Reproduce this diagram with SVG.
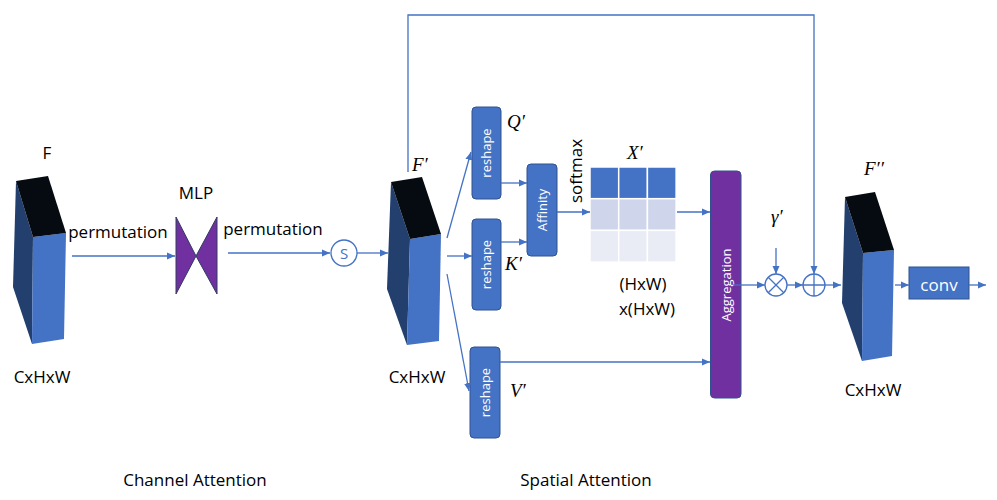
<svg xmlns="http://www.w3.org/2000/svg" width="997" height="500" viewBox="0 0 997 500">
<style>
text{font-family:"Open Sans","Liberation Sans",sans-serif;fill:#000}
.lbl{font-size:17px}
.cap{font-size:17px}
.math{font-family:"Liberation Serif","DejaVu Serif",serif;font-style:italic;font-size:19px}
.wt{fill:#fff;font-size:13px}
.top{fill:#060b12}
.front{fill:#4472c4}
.side{fill:#223f6e}
.box{fill:#4472c4;stroke:#2f528f;stroke-width:1}
.conn line,.conn path{stroke:#4472c4;stroke-width:1.3;fill:none}
.op{fill:#fff;stroke:#4472c4;stroke-width:1.3}
</style>
<defs>
<marker id="ah" markerUnits="userSpaceOnUse" markerWidth="9" markerHeight="8" refX="8" refY="4" orient="auto">
<path d="M0,0.5 L8,4 L0,7.5 z" fill="#4472c4"/>
</marker>
</defs>

<g id="blockF">
<polygon class="side" points="16,181 33,237 32,344 13,287"/>
<polygon class="front" points="33,237 66,233 64,339 32,344"/>
<polygon class="top" points="16,181 48,176 66,233 33,237"/>
<text class="lbl" x="47" y="159" text-anchor="middle">F</text>
<text class="lbl" x="42" y="383" text-anchor="middle">CxHxW</text>
</g>

<g id="mlp">
<polygon points="176,217 196,256 217,217 217,294 196,256 176,294" fill="#7030a0" stroke="#2f3c5f" stroke-width="1"/>
<text class="lbl" x="196" y="199" text-anchor="middle">MLP</text>
</g>

<g id="labels-perm">
<text class="lbl" x="118" y="238" text-anchor="middle">permutation</text>
<text class="lbl" x="273" y="235" text-anchor="middle">permutation</text>
</g>

<g id="sigmoid">
<circle class="op" cx="344" cy="253" r="13"/>
<text x="344" y="258.5" text-anchor="middle" style="font-size:15px;fill:#4472c4">S</text>
</g>

<g id="blockFp">
<polygon class="side" points="391,182 410,239 407,345 387,289"/>
<polygon class="front" points="410,239 441,234 439,341 407,345"/>
<polygon class="top" points="391,182 422,177 441,234 410,239"/>
<text class="math" x="412" y="171">F′</text>
<text class="lbl" x="417" y="383" text-anchor="middle">CxHxW</text>
</g>

<g id="reshapeQ">
<rect class="box" x="472" y="107" width="29" height="92" rx="4"/>
<text class="wt" transform="translate(486.5,153) rotate(-90)" text-anchor="middle" dy="0.35em">reshape</text>
<text class="math" x="507" y="128">Q′</text>
</g>

<g id="reshapeK">
<rect class="box" x="472" y="219" width="29" height="91" rx="4"/>
<text class="wt" transform="translate(486.5,264.5) rotate(-90)" text-anchor="middle" dy="0.35em">reshape</text>
<text class="math" x="505" y="270">K′</text>
</g>

<g id="reshapeV">
<rect class="box" x="470" y="347" width="30" height="91" rx="4"/>
<text class="wt" transform="translate(485,392.5) rotate(-90)" text-anchor="middle" dy="0.35em">reshape</text>
<text class="math" x="510" y="397">V′</text>
</g>

<g id="affinity">
<rect class="box" x="527" y="164" width="30" height="92" rx="4"/>
<text class="wt" transform="translate(542,210) rotate(-90)" text-anchor="middle" dy="0.35em">Affinity</text>
</g>

<g id="softmax">
<text class="lbl" transform="translate(582,171) rotate(-90)" text-anchor="middle">softmax</text>
</g>

<g id="matrix">
<g stroke="#fff" stroke-width="1.5">
<rect x="590" y="167" width="28.7" height="31.7" fill="#4472c4"/>
<rect x="618.7" y="167" width="28.7" height="31.7" fill="#4472c4"/>
<rect x="647.4" y="167" width="28.7" height="31.7" fill="#4472c4"/>
<rect x="590" y="198.7" width="28.7" height="31.7" fill="#cfd5ea"/>
<rect x="618.7" y="198.7" width="28.7" height="31.7" fill="#cfd5ea"/>
<rect x="647.4" y="198.7" width="28.7" height="31.7" fill="#cfd5ea"/>
<rect x="590" y="230.4" width="28.7" height="31.7" fill="#e9ebf5"/>
<rect x="618.7" y="230.4" width="28.7" height="31.7" fill="#e9ebf5"/>
<rect x="647.4" y="230.4" width="28.7" height="31.7" fill="#e9ebf5"/>
</g>
<text class="math" x="627" y="159">X′</text>
<text class="lbl" x="643" y="290" text-anchor="middle">(HxW)</text>
<text class="lbl" x="647" y="315" text-anchor="middle">x(HxW)</text>
</g>

<g id="aggregation">
<rect x="710.5" y="171" width="30.5" height="227" rx="4" fill="#7030a0" stroke="#2f528f" stroke-width="1"/>
<text class="wt" transform="translate(726,285) rotate(-90)" text-anchor="middle" dy="0.35em">Aggregation</text>
</g>

<g id="multiply">
<circle class="op" cx="776" cy="285" r="11"/>
<path d="M768.2,277.2 L783.8,292.8 M783.8,277.2 L768.2,292.8" stroke="#4472c4" stroke-width="1.3"/>
<text class="math" x="771" y="223">γ′</text>
</g>

<g id="add">
<circle class="op" cx="814" cy="285" r="11"/>
<path d="M803,285 H825 M814,274 V296" stroke="#4472c4" stroke-width="1.3"/>
</g>

<g id="blockFpp">
<polygon class="side" points="845,197 863,253 862,361 842,303"/>
<polygon class="front" points="863,253 894,250 892,356 862,361"/>
<polygon class="top" points="845,197 875,192 894,250 863,253"/>
<text class="math" x="864" y="175">F′′</text>
<text class="lbl" x="873" y="396" text-anchor="middle">CxHxW</text>
</g>

<g id="conv">
<rect x="909" y="267" width="60" height="32" fill="#4472c4" stroke="#2f528f" stroke-width="1"/>
<text x="939" y="291" text-anchor="middle" style="font-size:17px;fill:#fff">conv</text>
</g>

<g id="captions">
<text class="cap" x="195" y="486" text-anchor="middle">Channel Attention</text>
<text class="cap" x="586" y="486" text-anchor="middle">Spatial Attention</text>
</g>

<g id="connectors" class="conn">
<line x1="72" y1="256" x2="175" y2="256" marker-end="url(#ah)"/>
<line x1="228" y1="253" x2="330" y2="253" marker-end="url(#ah)"/>
<line x1="357" y1="253" x2="388" y2="253" marker-end="url(#ah)"/>
<line x1="447" y1="238" x2="471" y2="152" marker-end="url(#ah)"/>
<line x1="447" y1="256" x2="472" y2="256" marker-end="url(#ah)"/>
<line x1="447" y1="274" x2="469" y2="391" marker-end="url(#ah)"/>
<line x1="501" y1="183" x2="527" y2="183" marker-end="url(#ah)"/>
<line x1="501" y1="242" x2="527" y2="242" marker-end="url(#ah)"/>
<line x1="557" y1="212" x2="590" y2="212" marker-end="url(#ah)"/>
<line x1="677" y1="212" x2="710" y2="212" marker-end="url(#ah)"/>
<line x1="500" y1="362" x2="710" y2="362" marker-end="url(#ah)"/>
<line x1="733" y1="285" x2="765" y2="285" marker-end="url(#ah)"/>
<line x1="776" y1="248" x2="776" y2="274" marker-end="url(#ah)"/>
<line x1="787" y1="285" x2="803" y2="285" marker-end="url(#ah)"/>
<path d="M408,172 V15 H814 V274" marker-end="url(#ah)"/>
<line x1="825" y1="285" x2="841" y2="285" marker-end="url(#ah)"/>
<line x1="895" y1="285" x2="909" y2="285" marker-end="url(#ah)"/>
<line x1="969" y1="285" x2="986" y2="285" marker-end="url(#ah)"/>
</g>
</svg>
